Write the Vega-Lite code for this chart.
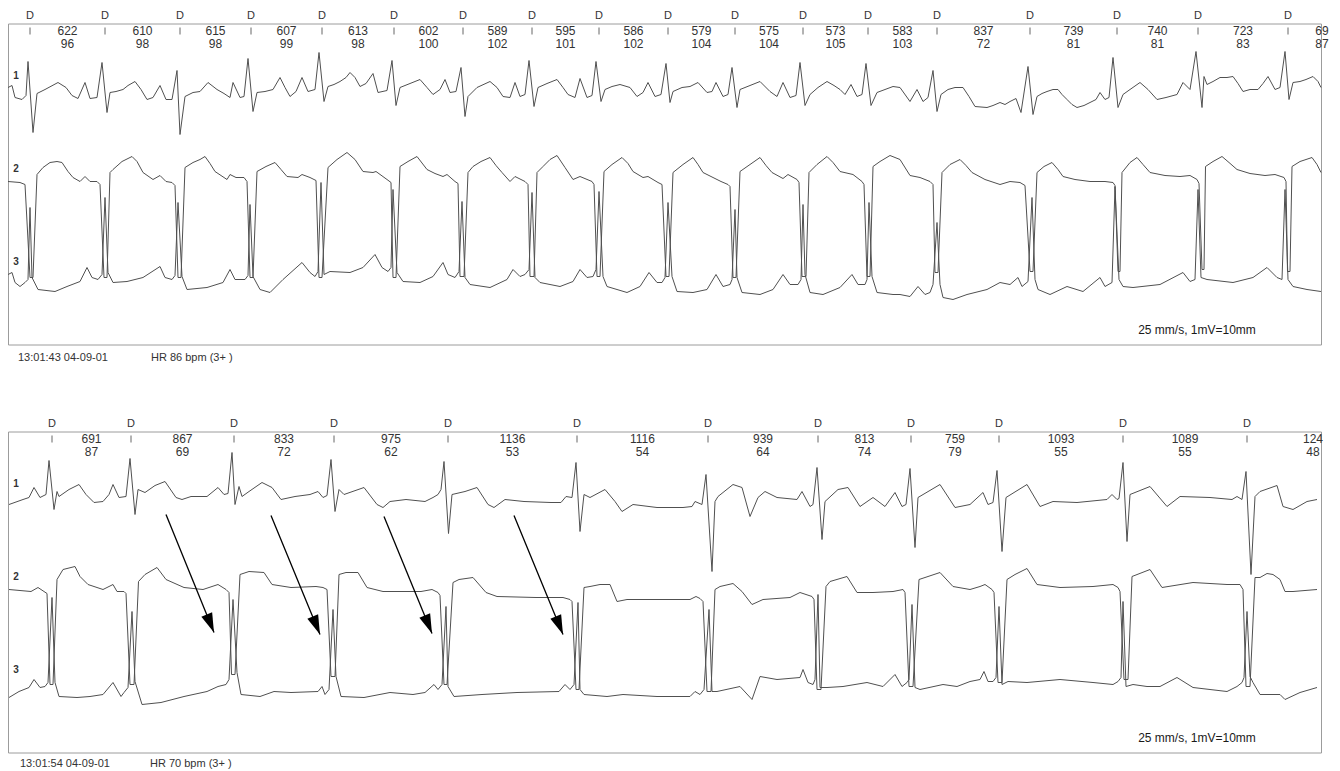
{
"$schema":"https://vega.github.io/schema/vega-lite/v6.json",
"background":"white",
"padding":{"left":5,"top":8.5,"right":0,"bottom":0},
"bounds":"flush",
"spacing":87,
"config":{"view":{"stroke":"#9c9c9c","strokeWidth":1}},
"datasets":{
"ecgTop":[
{"l":1,"t":8,"v":257},{"l":1,"t":12,"v":259},{"l":1,"t":15,"v":247},{"l":1,"t":22,"v":245},{"l":1,"t":26,"v":249},{"l":1,"t":28,"v":283},{"l":1,"t":33,"v":212},{"l":1,"t":37,"v":251},{"l":1,"t":45,"v":255},{"l":1,"t":58,"v":262},{"l":1,"t":66,"v":257},{"l":1,"t":72,"v":249},{"l":1,"t":78,"v":246},{"l":1,"t":85,"v":262},{"l":1,"t":90,"v":246},{"l":1,"t":97,"v":247},{"l":1,"t":102,"v":282},{"l":1,"t":107,"v":232},{"l":1,"t":110,"v":252},{"l":1,"t":116,"v":253},{"l":1,"t":123,"v":255},{"l":1,"t":128,"v":259},{"l":1,"t":135,"v":263},{"l":1,"t":141,"v":255},{"l":1,"t":147,"v":245},{"l":1,"t":153,"v":247},{"l":1,"t":160,"v":259},{"l":1,"t":166,"v":245},{"l":1,"t":172,"v":245},{"l":1,"t":177,"v":274},{"l":1,"t":180,"v":210},{"l":1,"t":185,"v":248},{"l":1,"t":193,"v":252},{"l":1,"t":200,"v":253},{"l":1,"t":208,"v":262},{"l":1,"t":217,"v":255},{"l":1,"t":224,"v":251},{"l":1,"t":230,"v":247},{"l":1,"t":233,"v":262},{"l":1,"t":240,"v":247},{"l":1,"t":244,"v":248},{"l":1,"t":248,"v":286},{"l":1,"t":253,"v":233},{"l":1,"t":257,"v":252},{"l":1,"t":265,"v":253},{"l":1,"t":273,"v":255},{"l":1,"t":280,"v":267},{"l":1,"t":285,"v":257},{"l":1,"t":290,"v":248},{"l":1,"t":296,"v":253},{"l":1,"t":302,"v":267},{"l":1,"t":308,"v":253},{"l":1,"t":315,"v":255},{"l":1,"t":319,"v":292},{"l":1,"t":324,"v":243},{"l":1,"t":328,"v":258},{"l":1,"t":334,"v":260},{"l":1,"t":340,"v":263},{"l":1,"t":346,"v":267},{"l":1,"t":350,"v":272},{"l":1,"t":355,"v":267},{"l":1,"t":360,"v":258},{"l":1,"t":366,"v":261},{"l":1,"t":373,"v":271},{"l":1,"t":378,"v":252},{"l":1,"t":387,"v":254},{"l":1,"t":392,"v":284},{"l":1,"t":396,"v":239},{"l":1,"t":400,"v":257},{"l":1,"t":410,"v":261},{"l":1,"t":420,"v":265},{"l":1,"t":427,"v":257},{"l":1,"t":433,"v":250},{"l":1,"t":440,"v":255},{"l":1,"t":445,"v":265},{"l":1,"t":450,"v":252},{"l":1,"t":456,"v":253},{"l":1,"t":461,"v":277},{"l":1,"t":465,"v":228},{"l":1,"t":468,"v":248},{"l":1,"t":477,"v":257},{"l":1,"t":490,"v":263},{"l":1,"t":497,"v":257},{"l":1,"t":503,"v":248},{"l":1,"t":510,"v":247},{"l":1,"t":515,"v":262},{"l":1,"t":520,"v":248},{"l":1,"t":525,"v":250},{"l":1,"t":529,"v":284},{"l":1,"t":534,"v":238},{"l":1,"t":538,"v":257},{"l":1,"t":547,"v":261},{"l":1,"t":557,"v":265},{"l":1,"t":563,"v":257},{"l":1,"t":568,"v":250},{"l":1,"t":575,"v":247},{"l":1,"t":580,"v":266},{"l":1,"t":587,"v":247},{"l":1,"t":592,"v":249},{"l":1,"t":596,"v":283},{"l":1,"t":601,"v":243},{"l":1,"t":605,"v":255},{"l":1,"t":612,"v":258},{"l":1,"t":620,"v":260},{"l":1,"t":630,"v":257},{"l":1,"t":637,"v":248},{"l":1,"t":643,"v":252},{"l":1,"t":648,"v":262},{"l":1,"t":655,"v":248},{"l":1,"t":661,"v":250},{"l":1,"t":666,"v":281},{"l":1,"t":670,"v":242},{"l":1,"t":673,"v":253},{"l":1,"t":682,"v":257},{"l":1,"t":690,"v":258},{"l":1,"t":698,"v":262},{"l":1,"t":707,"v":252},{"l":1,"t":712,"v":253},{"l":1,"t":716,"v":262},{"l":1,"t":723,"v":248},{"l":1,"t":728,"v":250},{"l":1,"t":732,"v":277},{"l":1,"t":737,"v":237},{"l":1,"t":740,"v":255},{"l":1,"t":750,"v":259},{"l":1,"t":760,"v":263},{"l":1,"t":770,"v":253},{"l":1,"t":777,"v":248},{"l":1,"t":783,"v":262},{"l":1,"t":790,"v":247},{"l":1,"t":796,"v":249},{"l":1,"t":800,"v":282},{"l":1,"t":805,"v":239},{"l":1,"t":810,"v":250},{"l":1,"t":818,"v":257},{"l":1,"t":827,"v":263},{"l":1,"t":834,"v":259},{"l":1,"t":840,"v":255},{"l":1,"t":845,"v":250},{"l":1,"t":851,"v":260},{"l":1,"t":857,"v":248},{"l":1,"t":862,"v":250},{"l":1,"t":866,"v":281},{"l":1,"t":871,"v":239},{"l":1,"t":877,"v":252},{"l":1,"t":885,"v":255},{"l":1,"t":893,"v":258},{"l":1,"t":900,"v":257},{"l":1,"t":910,"v":243},{"l":1,"t":917,"v":255},{"l":1,"t":923,"v":243},{"l":1,"t":928,"v":247},{"l":1,"t":933,"v":274},{"l":1,"t":937,"v":233},{"l":1,"t":941,"v":250},{"l":1,"t":948,"v":255},{"l":1,"t":955,"v":257},{"l":1,"t":963,"v":257},{"l":1,"t":969,"v":248},{"l":1,"t":975,"v":238},{"l":1,"t":987,"v":237},{"l":1,"t":993,"v":239},{"l":1,"t":1000,"v":242},{"l":1,"t":1005,"v":240},{"l":1,"t":1010,"v":243},{"l":1,"t":1016,"v":246},{"l":1,"t":1021,"v":232},{"l":1,"t":1028,"v":278},{"l":1,"t":1033,"v":230},{"l":1,"t":1037,"v":248},{"l":1,"t":1042,"v":251},{"l":1,"t":1047,"v":253},{"l":1,"t":1053,"v":255},{"l":1,"t":1058,"v":255},{"l":1,"t":1062,"v":250},{"l":1,"t":1067,"v":245},{"l":1,"t":1072,"v":240},{"l":1,"t":1077,"v":237},{"l":1,"t":1084,"v":239},{"l":1,"t":1090,"v":242},{"l":1,"t":1096,"v":245},{"l":1,"t":1100,"v":252},{"l":1,"t":1105,"v":245},{"l":1,"t":1109,"v":247},{"l":1,"t":1113,"v":287},{"l":1,"t":1118,"v":237},{"l":1,"t":1123,"v":250},{"l":1,"t":1130,"v":255},{"l":1,"t":1140,"v":262},{"l":1,"t":1148,"v":255},{"l":1,"t":1157,"v":245},{"l":1,"t":1166,"v":247},{"l":1,"t":1177,"v":250},{"l":1,"t":1183,"v":262},{"l":1,"t":1190,"v":255},{"l":1,"t":1196,"v":293},{"l":1,"t":1202,"v":237},{"l":1,"t":1204,"v":268},{"l":1,"t":1207,"v":260},{"l":1,"t":1213,"v":263},{"l":1,"t":1220,"v":267},{"l":1,"t":1227,"v":267},{"l":1,"t":1233,"v":268},{"l":1,"t":1238,"v":261},{"l":1,"t":1243,"v":253},{"l":1,"t":1250,"v":255},{"l":1,"t":1258,"v":255},{"l":1,"t":1263,"v":261},{"l":1,"t":1268,"v":268},{"l":1,"t":1275,"v":255},{"l":1,"t":1280,"v":257},{"l":1,"t":1285,"v":293},{"l":1,"t":1289,"v":245},{"l":1,"t":1293,"v":262},{"l":1,"t":1300,"v":263},{"l":1,"t":1306,"v":265},{"l":1,"t":1313,"v":268},{"l":1,"t":1318,"v":263},{"l":1,"t":1321,"v":257},
{"l":2,"t":8,"v":163},{"l":2,"t":20,"v":162},{"l":2,"t":25,"v":160},{"l":2,"t":30,"v":67},{"l":2,"t":33,"v":67},{"l":2,"t":37,"v":170},{"l":2,"t":43,"v":177},{"l":2,"t":50,"v":182},{"l":2,"t":57,"v":183},{"l":2,"t":62,"v":182},{"l":2,"t":68,"v":173},{"l":2,"t":73,"v":167},{"l":2,"t":80,"v":163},{"l":2,"t":85,"v":168},{"l":2,"t":90,"v":163},{"l":2,"t":97,"v":163},{"l":2,"t":100,"v":160},{"l":2,"t":104,"v":67},{"l":2,"t":107,"v":67},{"l":2,"t":110,"v":172},{"l":2,"t":113,"v":175},{"l":2,"t":122,"v":183},{"l":2,"t":132,"v":188},{"l":2,"t":137,"v":183},{"l":2,"t":143,"v":172},{"l":2,"t":153,"v":165},{"l":2,"t":160,"v":169},{"l":2,"t":166,"v":163},{"l":2,"t":172,"v":162},{"l":2,"t":175,"v":159},{"l":2,"t":178,"v":67},{"l":2,"t":181,"v":67},{"l":2,"t":185,"v":177},{"l":2,"t":193,"v":182},{"l":2,"t":200,"v":185},{"l":2,"t":205,"v":188},{"l":2,"t":210,"v":181},{"l":2,"t":215,"v":173},{"l":2,"t":227,"v":165},{"l":2,"t":230,"v":170},{"l":2,"t":236,"v":167},{"l":2,"t":244,"v":167},{"l":2,"t":247,"v":163},{"l":2,"t":250,"v":67},{"l":2,"t":253,"v":67},{"l":2,"t":257,"v":173},{"l":2,"t":266,"v":178},{"l":2,"t":275,"v":182},{"l":2,"t":281,"v":175},{"l":2,"t":287,"v":168},{"l":2,"t":298,"v":167},{"l":2,"t":302,"v":170},{"l":2,"t":310,"v":167},{"l":2,"t":316,"v":164},{"l":2,"t":319,"v":67},{"l":2,"t":322,"v":67},{"l":2,"t":328,"v":177},{"l":2,"t":337,"v":185},{"l":2,"t":347,"v":192},{"l":2,"t":355,"v":185},{"l":2,"t":363,"v":173},{"l":2,"t":373,"v":172},{"l":2,"t":376,"v":173},{"l":2,"t":387,"v":165},{"l":2,"t":391,"v":162},{"l":2,"t":393,"v":67},{"l":2,"t":396,"v":67},{"l":2,"t":400,"v":178},{"l":2,"t":408,"v":183},{"l":2,"t":417,"v":188},{"l":2,"t":427,"v":175},{"l":2,"t":435,"v":171},{"l":2,"t":443,"v":168},{"l":2,"t":447,"v":170},{"l":2,"t":455,"v":163},{"l":2,"t":458,"v":161},{"l":2,"t":460,"v":68},{"l":2,"t":464,"v":68},{"l":2,"t":468,"v":172},{"l":2,"t":473,"v":178},{"l":2,"t":481,"v":183},{"l":2,"t":490,"v":187},{"l":2,"t":496,"v":179},{"l":2,"t":502,"v":172},{"l":2,"t":510,"v":163},{"l":2,"t":515,"v":168},{"l":2,"t":525,"v":163},{"l":2,"t":528,"v":160},{"l":2,"t":530,"v":68},{"l":2,"t":534,"v":68},{"l":2,"t":537,"v":172},{"l":2,"t":543,"v":178},{"l":2,"t":550,"v":185},{"l":2,"t":557,"v":189},{"l":2,"t":565,"v":177},{"l":2,"t":573,"v":165},{"l":2,"t":580,"v":168},{"l":2,"t":592,"v":163},{"l":2,"t":594,"v":160},{"l":2,"t":597,"v":68},{"l":2,"t":600,"v":68},{"l":2,"t":604,"v":173},{"l":2,"t":612,"v":180},{"l":2,"t":622,"v":187},{"l":2,"t":628,"v":181},{"l":2,"t":633,"v":173},{"l":2,"t":643,"v":167},{"l":2,"t":648,"v":168},{"l":2,"t":658,"v":162},{"l":2,"t":662,"v":160},{"l":2,"t":666,"v":68},{"l":2,"t":669,"v":68},{"l":2,"t":673,"v":172},{"l":2,"t":683,"v":180},{"l":2,"t":693,"v":187},{"l":2,"t":698,"v":180},{"l":2,"t":703,"v":172},{"l":2,"t":717,"v":165},{"l":2,"t":721,"v":163},{"l":2,"t":728,"v":160},{"l":2,"t":730,"v":158},{"l":2,"t":733,"v":67},{"l":2,"t":736,"v":67},{"l":2,"t":740,"v":173},{"l":2,"t":750,"v":180},{"l":2,"t":760,"v":187},{"l":2,"t":766,"v":179},{"l":2,"t":772,"v":172},{"l":2,"t":783,"v":166},{"l":2,"t":788,"v":170},{"l":2,"t":797,"v":165},{"l":2,"t":799,"v":162},{"l":2,"t":802,"v":68},{"l":2,"t":806,"v":68},{"l":2,"t":809,"v":172},{"l":2,"t":817,"v":180},{"l":2,"t":827,"v":188},{"l":2,"t":833,"v":182},{"l":2,"t":840,"v":173},{"l":2,"t":853,"v":170},{"l":2,"t":862,"v":163},{"l":2,"t":864,"v":160},{"l":2,"t":867,"v":68},{"l":2,"t":870,"v":68},{"l":2,"t":873,"v":178},{"l":2,"t":880,"v":183},{"l":2,"t":890,"v":189},{"l":2,"t":900,"v":185},{"l":2,"t":910,"v":169},{"l":2,"t":920,"v":167},{"l":2,"t":930,"v":163},{"l":2,"t":933,"v":160},{"l":2,"t":935,"v":72},{"l":2,"t":938,"v":72},{"l":2,"t":942,"v":172},{"l":2,"t":950,"v":180},{"l":2,"t":960,"v":185},{"l":2,"t":966,"v":179},{"l":2,"t":972,"v":172},{"l":2,"t":985,"v":165},{"l":2,"t":1000,"v":160},{"l":2,"t":1010,"v":163},{"l":2,"t":1020,"v":162},{"l":2,"t":1025,"v":159},{"l":2,"t":1030,"v":73},{"l":2,"t":1033,"v":73},{"l":2,"t":1037,"v":172},{"l":2,"t":1044,"v":178},{"l":2,"t":1052,"v":182},{"l":2,"t":1058,"v":175},{"l":2,"t":1063,"v":168},{"l":2,"t":1075,"v":165},{"l":2,"t":1090,"v":163},{"l":2,"t":1105,"v":163},{"l":2,"t":1113,"v":162},{"l":2,"t":1115,"v":159},{"l":2,"t":1118,"v":73},{"l":2,"t":1120,"v":73},{"l":2,"t":1122,"v":172},{"l":2,"t":1130,"v":182},{"l":2,"t":1137,"v":187},{"l":2,"t":1143,"v":180},{"l":2,"t":1150,"v":172},{"l":2,"t":1165,"v":169},{"l":2,"t":1180,"v":168},{"l":2,"t":1190,"v":169},{"l":2,"t":1197,"v":165},{"l":2,"t":1199,"v":161},{"l":2,"t":1202,"v":75},{"l":2,"t":1204,"v":75},{"l":2,"t":1205.5,"v":178},{"l":2,"t":1213,"v":183},{"l":2,"t":1222,"v":188},{"l":2,"t":1229,"v":182},{"l":2,"t":1237,"v":175},{"l":2,"t":1250,"v":171},{"l":2,"t":1265,"v":169},{"l":2,"t":1275,"v":170},{"l":2,"t":1284,"v":167},{"l":2,"t":1286,"v":163},{"l":2,"t":1287.5,"v":73},{"l":2,"t":1290,"v":73},{"l":2,"t":1292,"v":178},{"l":2,"t":1300,"v":183},{"l":2,"t":1312,"v":187},{"l":2,"t":1317,"v":180},{"l":2,"t":1321,"v":172},
{"l":3,"t":8,"v":70},{"l":3,"t":12,"v":72},{"l":3,"t":15,"v":62},{"l":3,"t":20,"v":58},{"l":3,"t":25,"v":62},{"l":3,"t":28,"v":65},{"l":3,"t":30,"v":137},{"l":3,"t":32,"v":67},{"l":3,"t":38,"v":55},{"l":3,"t":55,"v":53},{"l":3,"t":67,"v":58},{"l":3,"t":80,"v":63},{"l":3,"t":87,"v":77},{"l":3,"t":92,"v":67},{"l":3,"t":98,"v":65},{"l":3,"t":102,"v":70},{"l":3,"t":105,"v":147},{"l":3,"t":108,"v":72},{"l":3,"t":113,"v":62},{"l":3,"t":127,"v":63},{"l":3,"t":143,"v":67},{"l":3,"t":160,"v":78},{"l":3,"t":165,"v":67},{"l":3,"t":172,"v":65},{"l":3,"t":175,"v":69},{"l":3,"t":178,"v":142},{"l":3,"t":182,"v":68},{"l":3,"t":187,"v":55},{"l":3,"t":207,"v":57},{"l":3,"t":223,"v":62},{"l":3,"t":230,"v":75},{"l":3,"t":235,"v":65},{"l":3,"t":245,"v":65},{"l":3,"t":248,"v":69},{"l":3,"t":250,"v":140},{"l":3,"t":253,"v":68},{"l":3,"t":260,"v":55},{"l":3,"t":270,"v":52},{"l":3,"t":283,"v":65},{"l":3,"t":302,"v":82},{"l":3,"t":310,"v":72},{"l":3,"t":315,"v":68},{"l":3,"t":318,"v":73},{"l":3,"t":321,"v":162},{"l":3,"t":324,"v":70},{"l":3,"t":330,"v":73},{"l":3,"t":350,"v":72},{"l":3,"t":363,"v":77},{"l":3,"t":375,"v":90},{"l":3,"t":382,"v":77},{"l":3,"t":388,"v":73},{"l":3,"t":391,"v":77},{"l":3,"t":393,"v":155},{"l":3,"t":397,"v":72},{"l":3,"t":403,"v":63},{"l":3,"t":420,"v":62},{"l":3,"t":433,"v":68},{"l":3,"t":443,"v":82},{"l":3,"t":448,"v":70},{"l":3,"t":455,"v":67},{"l":3,"t":459,"v":73},{"l":3,"t":462,"v":143},{"l":3,"t":465,"v":67},{"l":3,"t":470,"v":60},{"l":3,"t":490,"v":57},{"l":3,"t":507,"v":65},{"l":3,"t":513,"v":75},{"l":3,"t":520,"v":68},{"l":3,"t":525,"v":70},{"l":3,"t":529,"v":75},{"l":3,"t":532,"v":152},{"l":3,"t":535,"v":67},{"l":3,"t":540,"v":62},{"l":3,"t":560,"v":58},{"l":3,"t":573,"v":63},{"l":3,"t":580,"v":75},{"l":3,"t":587,"v":67},{"l":3,"t":593,"v":68},{"l":3,"t":596,"v":75},{"l":3,"t":599,"v":153},{"l":3,"t":603,"v":68},{"l":3,"t":607,"v":58},{"l":3,"t":627,"v":52},{"l":3,"t":640,"v":58},{"l":3,"t":649,"v":72},{"l":3,"t":657,"v":62},{"l":3,"t":662,"v":62},{"l":3,"t":665,"v":67},{"l":3,"t":668,"v":142},{"l":3,"t":672,"v":68},{"l":3,"t":677,"v":53},{"l":3,"t":693,"v":52},{"l":3,"t":707,"v":55},{"l":3,"t":716,"v":70},{"l":3,"t":723,"v":58},{"l":3,"t":730,"v":60},{"l":3,"t":732,"v":65},{"l":3,"t":735,"v":135},{"l":3,"t":737,"v":67},{"l":3,"t":742,"v":52},{"l":3,"t":760,"v":50},{"l":3,"t":773,"v":55},{"l":3,"t":783,"v":70},{"l":3,"t":790,"v":60},{"l":3,"t":798,"v":60},{"l":3,"t":801,"v":65},{"l":3,"t":803,"v":140},{"l":3,"t":805,"v":70},{"l":3,"t":810,"v":52},{"l":3,"t":823,"v":50},{"l":3,"t":840,"v":57},{"l":3,"t":852,"v":70},{"l":3,"t":858,"v":60},{"l":3,"t":865,"v":60},{"l":3,"t":867,"v":65},{"l":3,"t":869,"v":142},{"l":3,"t":872,"v":68},{"l":3,"t":877,"v":52},{"l":3,"t":893,"v":50},{"l":3,"t":900,"v":50},{"l":3,"t":910,"v":48},{"l":3,"t":918,"v":58},{"l":3,"t":925,"v":50},{"l":3,"t":930,"v":52},{"l":3,"t":933,"v":60},{"l":3,"t":937,"v":122},{"l":3,"t":940,"v":60},{"l":3,"t":943,"v":47},{"l":3,"t":953,"v":45},{"l":3,"t":967,"v":50},{"l":3,"t":987,"v":55},{"l":3,"t":1000,"v":62},{"l":3,"t":1010,"v":60},{"l":3,"t":1018,"v":67},{"l":3,"t":1022,"v":58},{"l":3,"t":1028,"v":63},{"l":3,"t":1032,"v":147},{"l":3,"t":1035,"v":65},{"l":3,"t":1038,"v":55},{"l":3,"t":1050,"v":50},{"l":3,"t":1067,"v":58},{"l":3,"t":1083,"v":53},{"l":3,"t":1100,"v":67},{"l":3,"t":1105,"v":58},{"l":3,"t":1112,"v":62},{"l":3,"t":1115,"v":158},{"l":3,"t":1119,"v":65},{"l":3,"t":1123,"v":58},{"l":3,"t":1133,"v":57},{"l":3,"t":1160,"v":60},{"l":3,"t":1183,"v":72},{"l":3,"t":1190,"v":63},{"l":3,"t":1195,"v":65},{"l":3,"t":1198,"v":155},{"l":3,"t":1201,"v":67},{"l":3,"t":1207,"v":65},{"l":3,"t":1233,"v":62},{"l":3,"t":1253,"v":67},{"l":3,"t":1267,"v":77},{"l":3,"t":1277,"v":67},{"l":3,"t":1282,"v":65},{"l":3,"t":1285,"v":155},{"l":3,"t":1288,"v":65},{"l":3,"t":1293,"v":58},{"l":3,"t":1307,"v":55},{"l":3,"t":1321,"v":53}
],
"ecgBot":[
{"l":1,"t":9,"v":248},{"l":1,"t":23,"v":253},{"l":1,"t":29,"v":255},{"l":1,"t":34,"v":265},{"l":1,"t":40,"v":255},{"l":1,"t":46,"v":258},{"l":1,"t":49,"v":292},{"l":1,"t":54,"v":243},{"l":1,"t":57,"v":261},{"l":1,"t":59,"v":256},{"l":1,"t":69,"v":263},{"l":1,"t":79,"v":268},{"l":1,"t":86,"v":258},{"l":1,"t":94,"v":250},{"l":1,"t":103,"v":251},{"l":1,"t":109,"v":258},{"l":1,"t":113,"v":268},{"l":1,"t":119,"v":255},{"l":1,"t":126,"v":256},{"l":1,"t":130,"v":294},{"l":1,"t":135,"v":238},{"l":1,"t":138,"v":263},{"l":1,"t":145,"v":260},{"l":1,"t":155,"v":267},{"l":1,"t":165,"v":271},{"l":1,"t":176,"v":255},{"l":1,"t":182,"v":253},{"l":1,"t":191,"v":256},{"l":1,"t":207,"v":256},{"l":1,"t":218,"v":265},{"l":1,"t":224,"v":258},{"l":1,"t":228,"v":259},{"l":1,"t":232,"v":300},{"l":1,"t":235,"v":248},{"l":1,"t":239,"v":266},{"l":1,"t":242,"v":256},{"l":1,"t":249,"v":261},{"l":1,"t":262,"v":270},{"l":1,"t":272,"v":265},{"l":1,"t":281,"v":253},{"l":1,"t":295,"v":256},{"l":1,"t":310,"v":258},{"l":1,"t":318,"v":261},{"l":1,"t":323,"v":255},{"l":1,"t":327,"v":257},{"l":1,"t":331,"v":293},{"l":1,"t":335,"v":241},{"l":1,"t":339,"v":263},{"l":1,"t":344,"v":258},{"l":1,"t":364,"v":265},{"l":1,"t":377,"v":248},{"l":1,"t":383,"v":245},{"l":1,"t":390,"v":251},{"l":1,"t":406,"v":253},{"l":1,"t":425,"v":251},{"l":1,"t":433,"v":255},{"l":1,"t":438,"v":258},{"l":1,"t":441,"v":263},{"l":1,"t":444,"v":291},{"l":1,"t":448.5,"v":219},{"l":1,"t":452,"v":258},{"l":1,"t":465,"v":261},{"l":1,"t":477,"v":265},{"l":1,"t":488,"v":248},{"l":1,"t":494,"v":245},{"l":1,"t":505,"v":253},{"l":1,"t":524,"v":251},{"l":1,"t":551,"v":250},{"l":1,"t":561,"v":250},{"l":1,"t":566,"v":256},{"l":1,"t":572,"v":255},{"l":1,"t":576,"v":290},{"l":1,"t":580,"v":221},{"l":1,"t":584,"v":258},{"l":1,"t":590,"v":255},{"l":1,"t":605,"v":263},{"l":1,"t":615,"v":251},{"l":1,"t":622,"v":241},{"l":1,"t":633,"v":248},{"l":1,"t":657,"v":245},{"l":1,"t":683,"v":245},{"l":1,"t":692,"v":246},{"l":1,"t":695,"v":251},{"l":1,"t":702,"v":248},{"l":1,"t":706,"v":278},{"l":1,"t":712,"v":181},{"l":1,"t":715,"v":251},{"l":1,"t":718,"v":256},{"l":1,"t":733,"v":268},{"l":1,"t":742,"v":265},{"l":1,"t":750,"v":236},{"l":1,"t":758,"v":255},{"l":1,"t":765,"v":261},{"l":1,"t":777,"v":255},{"l":1,"t":797,"v":253},{"l":1,"t":802,"v":261},{"l":1,"t":810,"v":246},{"l":1,"t":813,"v":248},{"l":1,"t":817,"v":285},{"l":1,"t":822,"v":213},{"l":1,"t":825,"v":251},{"l":1,"t":838,"v":263},{"l":1,"t":848,"v":265},{"l":1,"t":860,"v":246},{"l":1,"t":873,"v":255},{"l":1,"t":885,"v":246},{"l":1,"t":895,"v":260},{"l":1,"t":902,"v":246},{"l":1,"t":906,"v":248},{"l":1,"t":910,"v":284},{"l":1,"t":915,"v":205},{"l":1,"t":918,"v":255},{"l":1,"t":940,"v":268},{"l":1,"t":955,"v":245},{"l":1,"t":970,"v":248},{"l":1,"t":983,"v":260},{"l":1,"t":988,"v":248},{"l":1,"t":993,"v":250},{"l":1,"t":997,"v":282},{"l":1,"t":1002,"v":201},{"l":1,"t":1006,"v":255},{"l":1,"t":1027,"v":268},{"l":1,"t":1040,"v":246},{"l":1,"t":1053,"v":251},{"l":1,"t":1077,"v":250},{"l":1,"t":1107,"v":253},{"l":1,"t":1112,"v":258},{"l":1,"t":1117,"v":253},{"l":1,"t":1119,"v":254},{"l":1,"t":1123,"v":290},{"l":1,"t":1127,"v":211},{"l":1,"t":1130,"v":258},{"l":1,"t":1150,"v":266},{"l":1,"t":1167,"v":246},{"l":1,"t":1180,"v":256},{"l":1,"t":1210,"v":255},{"l":1,"t":1232,"v":253},{"l":1,"t":1237,"v":256},{"l":1,"t":1242,"v":253},{"l":1,"t":1246,"v":281},{"l":1,"t":1251,"v":178},{"l":1,"t":1255,"v":256},{"l":1,"t":1260,"v":261},{"l":1,"t":1277,"v":267},{"l":1,"t":1283,"v":246},{"l":1,"t":1293,"v":243},{"l":1,"t":1307,"v":251},{"l":1,"t":1317,"v":253},
{"l":2,"t":9,"v":163},{"l":2,"t":31,"v":161},{"l":2,"t":38,"v":165},{"l":2,"t":44,"v":161},{"l":2,"t":47,"v":159},{"l":2,"t":50,"v":68},{"l":2,"t":53,"v":68},{"l":2,"t":57,"v":173},{"l":2,"t":63,"v":183},{"l":2,"t":75,"v":186},{"l":2,"t":80,"v":176},{"l":2,"t":88,"v":168},{"l":2,"t":103,"v":163},{"l":2,"t":113,"v":168},{"l":2,"t":117,"v":161},{"l":2,"t":124,"v":161},{"l":2,"t":126,"v":159},{"l":2,"t":130,"v":68},{"l":2,"t":134,"v":68},{"l":2,"t":138.5,"v":171},{"l":2,"t":145,"v":178},{"l":2,"t":157,"v":185},{"l":2,"t":166,"v":173},{"l":2,"t":184,"v":165},{"l":2,"t":203,"v":163},{"l":2,"t":218,"v":168},{"l":2,"t":226,"v":163},{"l":2,"t":229,"v":160},{"l":2,"t":231.5,"v":78},{"l":2,"t":235,"v":78},{"l":2,"t":240,"v":178},{"l":2,"t":249,"v":181},{"l":2,"t":264,"v":180},{"l":2,"t":272,"v":168},{"l":2,"t":291,"v":165},{"l":2,"t":316,"v":166},{"l":2,"t":323,"v":165},{"l":2,"t":327,"v":163},{"l":2,"t":331,"v":76},{"l":2,"t":335,"v":76},{"l":2,"t":339,"v":178},{"l":2,"t":346,"v":180},{"l":2,"t":358,"v":180},{"l":2,"t":367,"v":165},{"l":2,"t":383,"v":161},{"l":2,"t":421,"v":161},{"l":2,"t":432,"v":163},{"l":2,"t":438,"v":160},{"l":2,"t":440,"v":157},{"l":2,"t":444,"v":68},{"l":2,"t":447,"v":68},{"l":2,"t":453,"v":170},{"l":2,"t":459,"v":173},{"l":2,"t":473,"v":175},{"l":2,"t":486,"v":160},{"l":2,"t":497,"v":156},{"l":2,"t":536,"v":155},{"l":2,"t":563,"v":155},{"l":2,"t":570,"v":153},{"l":2,"t":572,"v":151},{"l":2,"t":576,"v":63},{"l":2,"t":579,"v":63},{"l":2,"t":584,"v":165},{"l":2,"t":590,"v":166},{"l":2,"t":600,"v":168},{"l":2,"t":610,"v":168},{"l":2,"t":617,"v":151},{"l":2,"t":627,"v":153},{"l":2,"t":657,"v":153},{"l":2,"t":690,"v":153},{"l":2,"t":696,"v":156},{"l":2,"t":700,"v":154},{"l":2,"t":703,"v":151},{"l":2,"t":707,"v":61},{"l":2,"t":711,"v":61},{"l":2,"t":715,"v":163},{"l":2,"t":720,"v":166},{"l":2,"t":733,"v":169},{"l":2,"t":742,"v":161},{"l":2,"t":752,"v":148},{"l":2,"t":763,"v":153},{"l":2,"t":790,"v":155},{"l":2,"t":800,"v":160},{"l":2,"t":812,"v":156},{"l":2,"t":814,"v":153},{"l":2,"t":817,"v":63},{"l":2,"t":821,"v":63},{"l":2,"t":826,"v":166},{"l":2,"t":830,"v":171},{"l":2,"t":847,"v":176},{"l":2,"t":857,"v":160},{"l":2,"t":873,"v":160},{"l":2,"t":893,"v":161},{"l":2,"t":903,"v":163},{"l":2,"t":905,"v":160},{"l":2,"t":909,"v":66},{"l":2,"t":913,"v":66},{"l":2,"t":919,"v":173},{"l":2,"t":940,"v":180},{"l":2,"t":953,"v":166},{"l":2,"t":970,"v":163},{"l":2,"t":980,"v":166},{"l":2,"t":985,"v":168},{"l":2,"t":992,"v":163},{"l":2,"t":994,"v":160},{"l":2,"t":998,"v":70},{"l":2,"t":1002,"v":70},{"l":2,"t":1007,"v":173},{"l":2,"t":1015,"v":178},{"l":2,"t":1027,"v":184},{"l":2,"t":1037,"v":168},{"l":2,"t":1060,"v":165},{"l":2,"t":1093,"v":166},{"l":2,"t":1113,"v":168},{"l":2,"t":1118,"v":165},{"l":2,"t":1120,"v":161},{"l":2,"t":1124,"v":73},{"l":2,"t":1128,"v":73},{"l":2,"t":1132,"v":176},{"l":2,"t":1150,"v":183},{"l":2,"t":1162,"v":165},{"l":2,"t":1193,"v":170},{"l":2,"t":1227,"v":168},{"l":2,"t":1240,"v":168},{"l":2,"t":1243,"v":163},{"l":2,"t":1246,"v":66},{"l":2,"t":1250,"v":66},{"l":2,"t":1255,"v":175},{"l":2,"t":1260,"v":175},{"l":2,"t":1267,"v":179},{"l":2,"t":1273,"v":178},{"l":2,"t":1280,"v":173},{"l":2,"t":1285,"v":161},{"l":2,"t":1293,"v":161},{"l":2,"t":1317,"v":163},
{"l":3,"t":9,"v":55},{"l":3,"t":19,"v":61},{"l":3,"t":29,"v":65},{"l":3,"t":34,"v":73},{"l":3,"t":40,"v":65},{"l":3,"t":45,"v":66},{"l":3,"t":48,"v":70},{"l":3,"t":52,"v":155},{"l":3,"t":55,"v":70},{"l":3,"t":59,"v":56},{"l":3,"t":77,"v":55},{"l":3,"t":90,"v":56},{"l":3,"t":103,"v":58},{"l":3,"t":113,"v":70},{"l":3,"t":121,"v":56},{"l":3,"t":124,"v":60},{"l":3,"t":128,"v":65},{"l":3,"t":132,"v":141},{"l":3,"t":135,"v":71},{"l":3,"t":142,"v":48},{"l":3,"t":161,"v":50},{"l":3,"t":184,"v":56},{"l":3,"t":207,"v":61},{"l":3,"t":218,"v":66},{"l":3,"t":226,"v":68},{"l":3,"t":229,"v":73},{"l":3,"t":233,"v":153},{"l":3,"t":237,"v":80},{"l":3,"t":241,"v":58},{"l":3,"t":260,"v":56},{"l":3,"t":274,"v":61},{"l":3,"t":291,"v":60},{"l":3,"t":318,"v":61},{"l":3,"t":322,"v":66},{"l":3,"t":325,"v":58},{"l":3,"t":329,"v":63},{"l":3,"t":333,"v":143},{"l":3,"t":336,"v":76},{"l":3,"t":341,"v":56},{"l":3,"t":364,"v":55},{"l":3,"t":390,"v":60},{"l":3,"t":413,"v":58},{"l":3,"t":425,"v":60},{"l":3,"t":434,"v":68},{"l":3,"t":438,"v":63},{"l":3,"t":442,"v":68},{"l":3,"t":446,"v":146},{"l":3,"t":448,"v":66},{"l":3,"t":454,"v":56},{"l":3,"t":482,"v":58},{"l":3,"t":517,"v":60},{"l":3,"t":559,"v":61},{"l":3,"t":565,"v":68},{"l":3,"t":570,"v":63},{"l":3,"t":574,"v":68},{"l":3,"t":578,"v":150},{"l":3,"t":580,"v":63},{"l":3,"t":584,"v":58},{"l":3,"t":607,"v":56},{"l":3,"t":623,"v":58},{"l":3,"t":657,"v":56},{"l":3,"t":690,"v":56},{"l":3,"t":695,"v":61},{"l":3,"t":700,"v":58},{"l":3,"t":704,"v":63},{"l":3,"t":709,"v":143},{"l":3,"t":712,"v":61},{"l":3,"t":717,"v":61},{"l":3,"t":740,"v":66},{"l":3,"t":752,"v":53},{"l":3,"t":760,"v":76},{"l":3,"t":777,"v":73},{"l":3,"t":800,"v":75},{"l":3,"t":803,"v":83},{"l":3,"t":808,"v":70},{"l":3,"t":813,"v":68},{"l":3,"t":815,"v":73},{"l":3,"t":818,"v":158},{"l":3,"t":820,"v":65},{"l":3,"t":827,"v":65},{"l":3,"t":843,"v":66},{"l":3,"t":867,"v":70},{"l":3,"t":883,"v":66},{"l":3,"t":895,"v":78},{"l":3,"t":902,"v":66},{"l":3,"t":907,"v":70},{"l":3,"t":909,"v":73},{"l":3,"t":912,"v":148},{"l":3,"t":915,"v":65},{"l":3,"t":920,"v":63},{"l":3,"t":943,"v":68},{"l":3,"t":957,"v":66},{"l":3,"t":970,"v":71},{"l":3,"t":980,"v":73},{"l":3,"t":984,"v":81},{"l":3,"t":988,"v":71},{"l":3,"t":993,"v":71},{"l":3,"t":996,"v":75},{"l":3,"t":999,"v":146},{"l":3,"t":1002,"v":68},{"l":3,"t":1008,"v":71},{"l":3,"t":1027,"v":70},{"l":3,"t":1060,"v":73},{"l":3,"t":1093,"v":70},{"l":3,"t":1113,"v":68},{"l":3,"t":1118,"v":71},{"l":3,"t":1121,"v":75},{"l":3,"t":1123,"v":151},{"l":3,"t":1126,"v":66},{"l":3,"t":1133,"v":68},{"l":3,"t":1147,"v":66},{"l":3,"t":1160,"v":66},{"l":3,"t":1177,"v":75},{"l":3,"t":1193,"v":65},{"l":3,"t":1227,"v":61},{"l":3,"t":1237,"v":66},{"l":3,"t":1242,"v":70},{"l":3,"t":1244,"v":75},{"l":3,"t":1247,"v":141},{"l":3,"t":1250,"v":76},{"l":3,"t":1253,"v":70},{"l":3,"t":1260,"v":58},{"l":3,"t":1280,"v":58},{"l":3,"t":1285,"v":53},{"l":3,"t":1300,"v":60},{"l":3,"t":1317,"v":65}
],
"beatsTop":[{"t":30},{"t":105},{"t":180},{"t":251},{"t":322},{"t":394},{"t":463},{"t":532},{"t":599},{"t":668},{"t":735},{"t":803},{"t":868},{"t":937},{"t":1030},{"t":1117},{"t":1198},{"t":1288}],
"beatsBot":[{"t":52},{"t":131},{"t":234},{"t":334},{"t":448},{"t":577},{"t":708},{"t":818},{"t":911},{"t":999},{"t":1123},{"t":1247}],
"rrTop":[{"t":67.5,"rr":"622","hr":"96"},{"t":142.5,"rr":"610","hr":"98"},{"t":215.5,"rr":"615","hr":"98"},{"t":286.5,"rr":"607","hr":"99"},{"t":358,"rr":"613","hr":"98"},{"t":428.5,"rr":"602","hr":"100"},{"t":497.5,"rr":"589","hr":"102"},{"t":565.5,"rr":"595","hr":"101"},{"t":633.5,"rr":"586","hr":"102"},{"t":701.5,"rr":"579","hr":"104"},{"t":769,"rr":"575","hr":"104"},{"t":835.5,"rr":"573","hr":"105"},{"t":902.5,"rr":"583","hr":"103"},{"t":983.5,"rr":"837","hr":"72"},{"t":1073.5,"rr":"739","hr":"81"},{"t":1157.5,"rr":"740","hr":"81"},{"t":1243,"rr":"723","hr":"83"},{"t":1322,"rr":"69","hr":"87"}],
"rrBot":[{"t":91.5,"rr":"691","hr":"87"},{"t":182.5,"rr":"867","hr":"69"},{"t":284,"rr":"833","hr":"72"},{"t":391,"rr":"975","hr":"62"},{"t":512.5,"rr":"1136","hr":"53"},{"t":642.5,"rr":"1116","hr":"54"},{"t":763,"rr":"939","hr":"64"},{"t":864.5,"rr":"813","hr":"74"},{"t":955,"rr":"759","hr":"79"},{"t":1061,"rr":"1093","hr":"55"},{"t":1185,"rr":"1089","hr":"55"},{"t":1313,"rr":"124","hr":"48"}],
"leads":[{"lead":"1","v":269},{"lead":"2","v":176},{"lead":"3","v":83}],
"infoTop":[{"date":"13:01:43 04-09-01","hrtxt":"HR 86 bpm (3+ )","speed":"25 mm/s, 1mV=10mm"}],
"infoBot":[{"date":"13:01:54 04-09-01","hrtxt":"HR 70 bpm (3+ )","speed":"25 mm/s, 1mV=10mm"}],
"arrows":[{"t":166,"v":238,"t2":214,"v2":120},{"t":271,"v":237,"t2":320,"v2":118},{"t":384,"v":236,"t2":432,"v2":119},{"t":514,"v":237,"t2":563,"v2":118}]
},
"vconcat":[
{
"width":1313,"height":321,
"layer":[
{"data":{"name":"ecgTop"},"mark":{"type":"line","stroke":"#505050","strokeWidth":1},"encoding":{"x":{"field":"t","type":"quantitative","scale":{"domain":[8,1321],"nice":false,"zero":false},"axis":null},"y":{"field":"v","type":"quantitative","scale":{"domain":[0,321],"nice":false,"zero":false},"axis":null},"detail":{"field":"l","type":"nominal"}}},
{"data":{"name":"beatsTop"},"mark":{"type":"text","text":"D","font":"Liberation Sans","fontSize":11,"color":"#333333","baseline":"middle"},"encoding":{"x":{"field":"t","type":"quantitative","axis":null},"y":{"datum":329,"type":"quantitative","axis":null}}},
{"data":{"name":"beatsTop"},"mark":{"type":"rule","stroke":"#666666","strokeWidth":1},"encoding":{"x":{"field":"t","type":"quantitative","axis":null},"y":{"datum":310,"type":"quantitative","axis":null},"y2":{"datum":317}}},
{"data":{"name":"rrTop"},"mark":{"type":"text","font":"Liberation Sans","fontSize":12,"color":"#333333","baseline":"middle"},"encoding":{"x":{"field":"t","type":"quantitative","axis":null},"y":{"datum":313.5,"type":"quantitative","axis":null},"text":{"field":"rr","type":"nominal"}}},
{"data":{"name":"rrTop"},"mark":{"type":"text","font":"Liberation Sans","fontSize":12,"color":"#333333","baseline":"middle"},"encoding":{"x":{"field":"t","type":"quantitative","axis":null},"y":{"datum":300.5,"type":"quantitative","axis":null},"text":{"field":"hr","type":"nominal"}}},
{"data":{"name":"leads"},"mark":{"type":"text","font":"Liberation Sans","fontSize":10,"fontWeight":"bold","color":"#333333","baseline":"middle"},"encoding":{"x":{"datum":16,"type":"quantitative","axis":null},"y":{"field":"v","type":"quantitative","axis":null},"text":{"field":"lead","type":"nominal"}}},
{"data":{"name":"infoTop"},"mark":{"type":"text","font":"Liberation Sans","fontSize":11,"color":"#333333","align":"left","baseline":"middle"},"encoding":{"x":{"datum":18,"type":"quantitative","axis":null},"y":{"datum":-13,"type":"quantitative","axis":null},"text":{"field":"date","type":"nominal"}}},
{"data":{"name":"infoTop"},"mark":{"type":"text","font":"Liberation Sans","fontSize":11,"color":"#333333","align":"left","baseline":"middle"},"encoding":{"x":{"datum":151,"type":"quantitative","axis":null},"y":{"datum":-13,"type":"quantitative","axis":null},"text":{"field":"hrtxt","type":"nominal"}}},
{"data":{"name":"infoTop"},"mark":{"type":"text","font":"Liberation Sans","fontSize":12,"color":"#1a1a1a","align":"center","baseline":"middle"},"encoding":{"x":{"datum":1197,"type":"quantitative","axis":null},"y":{"datum":14.5,"type":"quantitative","axis":null},"text":{"field":"speed","type":"nominal"}}}
]
},
{
"width":1313,"height":321,
"layer":[
{"data":{"name":"ecgBot"},"mark":{"type":"line","stroke":"#505050","strokeWidth":1},"encoding":{"x":{"field":"t","type":"quantitative","scale":{"domain":[8,1321],"nice":false,"zero":false},"axis":null},"y":{"field":"v","type":"quantitative","scale":{"domain":[0,321],"nice":false,"zero":false},"axis":null},"detail":{"field":"l","type":"nominal"}}},
{"data":{"name":"arrows"},"mark":{"type":"rule","stroke":"#000000","strokeWidth":1.3},"encoding":{"x":{"field":"t","type":"quantitative","axis":null},"y":{"field":"v","type":"quantitative","axis":null},"x2":{"field":"t2"},"y2":{"field":"v2"}}},
{"data":{"name":"arrows"},"mark":{"type":"point","shape":"M0,0L-0.3,-1L0.3,-1Z","filled":true,"color":"#000000","opacity":1,"size":1500,"angle":338,"strokeWidth":0},"encoding":{"x":{"field":"t2","type":"quantitative","axis":null},"y":{"field":"v2","type":"quantitative","axis":null}}},
{"data":{"name":"beatsBot"},"mark":{"type":"text","text":"D","font":"Liberation Sans","fontSize":11,"color":"#333333","baseline":"middle"},"encoding":{"x":{"field":"t","type":"quantitative","axis":null},"y":{"datum":329,"type":"quantitative","axis":null}}},
{"data":{"name":"beatsBot"},"mark":{"type":"rule","stroke":"#666666","strokeWidth":1},"encoding":{"x":{"field":"t","type":"quantitative","axis":null},"y":{"datum":310,"type":"quantitative","axis":null},"y2":{"datum":317}}},
{"data":{"name":"rrBot"},"mark":{"type":"text","font":"Liberation Sans","fontSize":12,"color":"#333333","baseline":"middle"},"encoding":{"x":{"field":"t","type":"quantitative","axis":null},"y":{"datum":313.5,"type":"quantitative","axis":null},"text":{"field":"rr","type":"nominal"}}},
{"data":{"name":"rrBot"},"mark":{"type":"text","font":"Liberation Sans","fontSize":12,"color":"#333333","baseline":"middle"},"encoding":{"x":{"field":"t","type":"quantitative","axis":null},"y":{"datum":300.5,"type":"quantitative","axis":null},"text":{"field":"hr","type":"nominal"}}},
{"data":{"name":"leads"},"mark":{"type":"text","font":"Liberation Sans","fontSize":10,"fontWeight":"bold","color":"#333333","baseline":"middle"},"encoding":{"x":{"datum":16,"type":"quantitative","axis":null},"y":{"field":"v","type":"quantitative","axis":null},"text":{"field":"lead","type":"nominal"}}},
{"data":{"name":"infoBot"},"mark":{"type":"text","font":"Liberation Sans","fontSize":11,"color":"#333333","align":"left","baseline":"middle"},"encoding":{"x":{"datum":20,"type":"quantitative","axis":null},"y":{"datum":-11,"type":"quantitative","axis":null},"text":{"field":"date","type":"nominal"}}},
{"data":{"name":"infoBot"},"mark":{"type":"text","font":"Liberation Sans","fontSize":11,"color":"#333333","align":"left","baseline":"middle"},"encoding":{"x":{"datum":150,"type":"quantitative","axis":null},"y":{"datum":-11,"type":"quantitative","axis":null},"text":{"field":"hrtxt","type":"nominal"}}},
{"data":{"name":"infoBot"},"mark":{"type":"text","font":"Liberation Sans","fontSize":12,"color":"#1a1a1a","align":"center","baseline":"middle"},"encoding":{"x":{"datum":1197,"type":"quantitative","axis":null},"y":{"datum":14.5,"type":"quantitative","axis":null},"text":{"field":"speed","type":"nominal"}}}
]
}
]
}
